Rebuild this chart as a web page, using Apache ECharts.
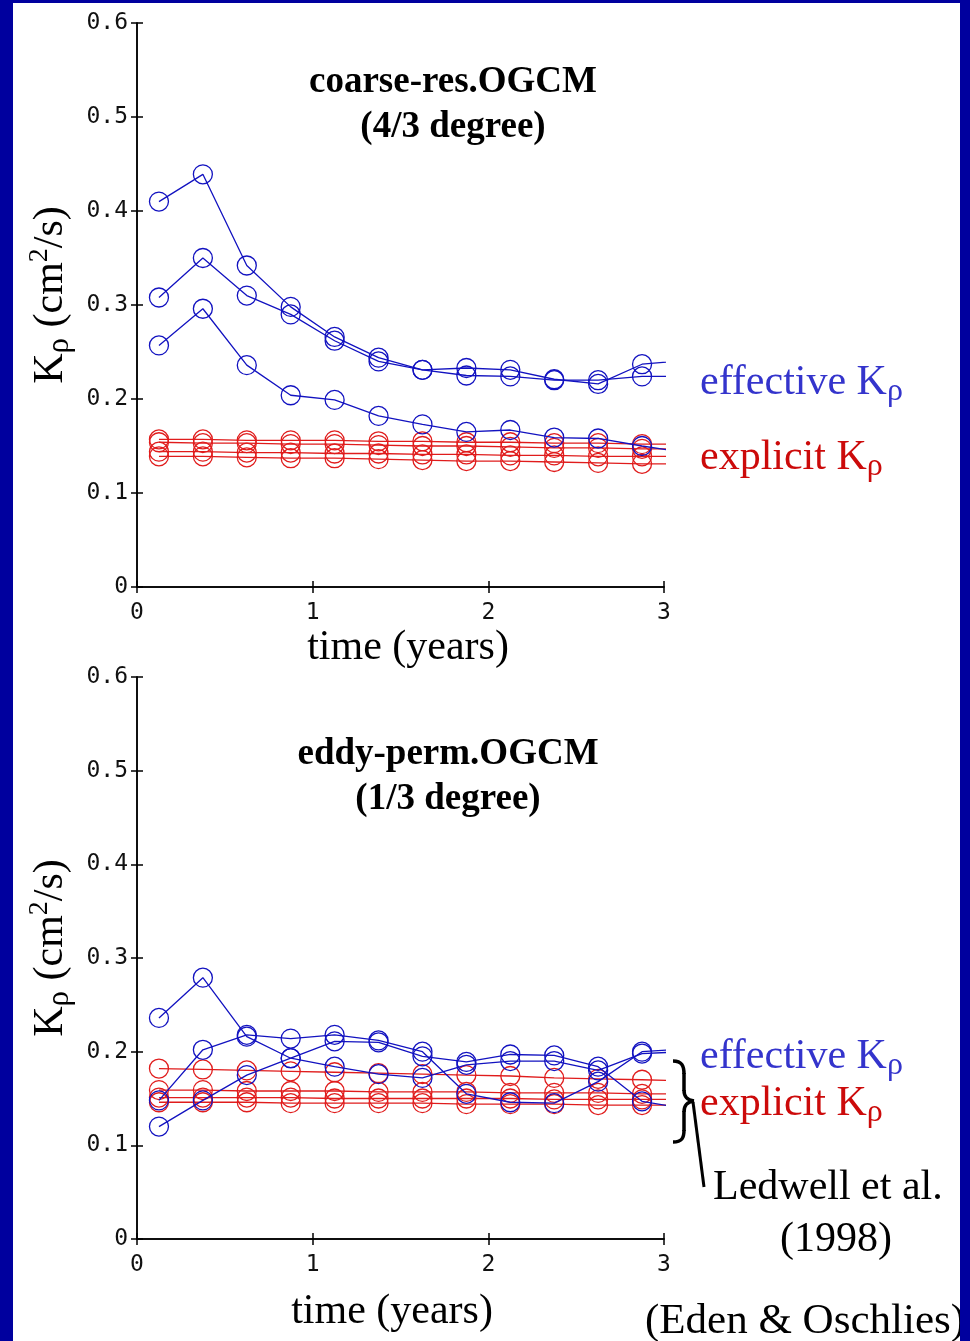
<!DOCTYPE html>
<html>
<head>
<meta charset="utf-8">
<script src="https://cdn.jsdelivr.net/npm/echarts@6/dist/echarts.min.js"></script>
<style>
html,body{margin:0;padding:0;background:#fff;}
#chart{width:970px;height:1341px;}
</style>
</head>
<body>
<div id="chart"></div>
<script>
// ---- data ----
const timeYears = [0.125, 0.375, 0.625, 0.875, 1.125, 1.375, 1.625, 1.875, 2.125, 2.375, 2.625, 2.875, 3.125];
const xTicks = [0, 1, 2, 3];
const yTicks = [0, 0.1, 0.2, 0.3, 0.4, 0.5, 0.6];

// coarse-res. OGCM (4/3 degree)
const coarseEffective1 = [0.410, 0.439, 0.342, 0.298, 0.266, 0.244, 0.231, 0.233, 0.231, 0.221, 0.216, 0.237, 0.241];
const coarseEffective2 = [0.308, 0.350, 0.310, 0.290, 0.262, 0.240, 0.231, 0.225, 0.224, 0.220, 0.220, 0.224, 0.224];
const coarseEffective3 = [0.257, 0.296, 0.236, 0.204, 0.199, 0.182, 0.173, 0.165, 0.167, 0.159, 0.158, 0.150, 0.143];
const coarseExplicit1 = [0.157, 0.157, 0.156, 0.156, 0.156, 0.155, 0.155, 0.154, 0.154, 0.153, 0.153, 0.152, 0.152];
const coarseExplicit2 = [0.154, 0.153, 0.153, 0.152, 0.152, 0.151, 0.150, 0.150, 0.149, 0.148, 0.148, 0.147, 0.147];
const coarseExplicit3 = [0.144, 0.144, 0.143, 0.143, 0.142, 0.142, 0.141, 0.141, 0.140, 0.140, 0.139, 0.139, 0.139];
const coarseExplicit4 = [0.139, 0.139, 0.138, 0.137, 0.137, 0.136, 0.135, 0.134, 0.134, 0.133, 0.132, 0.131, 0.131];

// eddy-perm. OGCM (1/3 degree)
const eddyEffective1 = [0.236, 0.279, 0.216, 0.193, 0.184, 0.176, 0.172, 0.186, 0.190, 0.190, 0.180, 0.198, 0.200];
const eddyEffective2 = [0.148, 0.202, 0.218, 0.214, 0.218, 0.212, 0.200, 0.155, 0.146, 0.145, 0.168, 0.200, 0.203];
const eddyEffective3 = [0.120, 0.148, 0.175, 0.193, 0.211, 0.210, 0.195, 0.189, 0.197, 0.196, 0.184, 0.147, 0.139];
const eddyExplicit1 = [0.182, 0.181, 0.180, 0.179, 0.178, 0.177, 0.176, 0.175, 0.174, 0.172, 0.171, 0.170, 0.169];
const eddyExplicit2 = [0.159, 0.159, 0.158, 0.158, 0.158, 0.157, 0.157, 0.157, 0.156, 0.156, 0.156, 0.155, 0.155];
const eddyExplicit3 = [0.151, 0.151, 0.151, 0.151, 0.150, 0.150, 0.150, 0.150, 0.150, 0.149, 0.149, 0.149, 0.149];
const eddyExplicit4 = [0.146, 0.146, 0.146, 0.145, 0.145, 0.145, 0.145, 0.144, 0.144, 0.144, 0.143, 0.143, 0.143];

const panelTitles = ['coarse-res.OGCM\n(4/3 degree)', 'eddy-perm.OGCM\n(1/3 degree)'];

// ---- styling ----
const BLUE = '#1212c0';
const RED = '#e01c1c';
const SERIF = 'Liberation Serif';
const MONO = 'DejaVu Sans Mono';

function pair(xs, ys) { return xs.map((x, i) => [x, ys[i]]); }

function mkSeries(name, vals, color, gi) {
  return {
    name: name, type: 'line', xAxisIndex: gi * 2, yAxisIndex: gi * 2,
    data: pair(timeYears, vals),
    symbol: 'circle', symbolSize: 19, clip: true,
    lineStyle: { color: color, width: 1.3 },
    itemStyle: { color: 'rgba(0,0,0,0)', borderColor: color, borderWidth: 1.3 },
    emphasis: { disabled: true }, z: color === BLUE ? 3 : 2
  };
}

function xAxes(gi, nameGap, pad) {
  return [{
    type: 'value', gridIndex: gi, min: xTicks[0], max: xTicks[xTicks.length - 1], interval: 1,
    position: 'bottom',
    name: 'time (years)', nameLocation: 'middle', nameGap: nameGap,
    nameTextStyle: { fontFamily: SERIF, fontSize: 42, color: '#000', lineHeight: 44, padding: pad },
    axisLine: { show: true, lineStyle: { color: '#000', width: 1.5 } },
    axisTick: { show: true, inside: true, length: 6, lineStyle: { color: '#000', width: 1.5 } },
    axisLabel: { show: true, margin: 15, fontFamily: MONO, fontSize: 23, color: '#111' },
    splitLine: { show: false }
  }, {
    type: 'value', gridIndex: gi, min: xTicks[0], max: xTicks[xTicks.length - 1], interval: 1,
    position: 'top',
    axisLine: { show: true, lineStyle: { color: '#000', width: 1.5 } },
    axisTick: { show: true, inside: true, length: 6, lineStyle: { color: '#000', width: 1.5 } },
    axisLabel: { show: false }, splitLine: { show: false }
  }];
}

const yRich = {
  k: { fontFamily: SERIF, fontSize: 42, lineHeight: 50, color: '#000' },
  s: { fontFamily: SERIF, fontSize: 31, lineHeight: 24, verticalAlign: 'bottom', color: '#000' },
  p: { fontFamily: SERIF, fontSize: 28, lineHeight: 26, verticalAlign: 'top', color: '#000' }
};

function yAxes(gi) {
  return [{
    type: 'value', gridIndex: gi, min: yTicks[0], max: yTicks[yTicks.length - 1], interval: 0.1,
    position: 'left',
    name: '{k|K}{s|ρ}{k| (cm}{p|2}{k|/s)}', nameLocation: 'middle', nameGap: 60,
    nameTextStyle: { fontFamily: SERIF, fontSize: 42, color: '#000', padding: [0, 0, 0, 20], rich: yRich },
    axisLine: { show: true, lineStyle: { color: '#000', width: 1.5 } },
    axisTick: { show: true, inside: true, length: 6, lineStyle: { color: '#000', width: 1.5 } },
    axisLabel: { show: true, margin: 9, fontFamily: MONO, fontSize: 23, color: '#111' },
    splitLine: { show: false }
  }, {
    type: 'value', gridIndex: gi, min: yTicks[0], max: yTicks[yTicks.length - 1], interval: 0.1,
    position: 'right',
    axisLine: { show: true, lineStyle: { color: '#000', width: 1.5 } },
    axisTick: { show: true, inside: true, length: 6, lineStyle: { color: '#000', width: 1.5 } },
    axisLabel: { show: false }, splitLine: { show: false }
  }];
}

function kText(x, y, label, color) {
  return {
    type: 'text', x: x, y: y, z: 10,
    style: {
      text: '{t|' + label + ' K}{s|ρ}', fill: color, align: 'left', verticalAlign: 'middle',
      rich: {
        t: { fontFamily: SERIF, fontSize: 42, lineHeight: 50, fill: color },
        s: { fontFamily: SERIF, fontSize: 32, lineHeight: 24, verticalAlign: 'bottom', fill: color }
      }
    }
  };
}

function plainText(x, y, text, align, opts) {
  return {
    type: 'text', x: x, y: y, z: 10,
    style: Object.assign({
      text: text, fill: '#000', align: align, verticalAlign: 'middle',
      fontFamily: SERIF, fontSize: 42
    }, opts || {})
  };
}

function bez(x1, y1, cx1, cy1, cx2, cy2, x2, y2) {
  return { type: 'bezierCurve', z: 10,
    shape: { x1: x1, y1: y1, cpx1: cx1, cpy1: cy1, cpx2: cx2, cpy2: cy2, x2: x2, y2: y2 },
    style: { fill: null, stroke: '#000', lineWidth: 3.5 } };
}
function seg(x1, y1, x2, y2, w) {
  return { type: 'line', z: 10, shape: { x1: x1, y1: y1, x2: x2, y2: y2 },
    style: { stroke: '#000', lineWidth: w || 3.5 } };
}

const chart = echarts.init(document.getElementById('chart'), null, { renderer: 'canvas' });

const option = {
  animation: false,
  backgroundColor: '#ffffff',
  grid: [
    { left: 137, top: 23, width: 527, height: 564 },
    { left: 137, top: 677, width: 527, height: 562 }
  ],
  xAxis: [].concat(xAxes(0, 28, [0, 0, 0, 15]), xAxes(1, 51, [0, 17, 0, 0])),
  yAxis: [].concat(yAxes(0), yAxes(1)),
  series: [
    mkSeries('coarse explicit 1', coarseExplicit1, RED, 0),
    mkSeries('coarse explicit 2', coarseExplicit2, RED, 0),
    mkSeries('coarse explicit 3', coarseExplicit3, RED, 0),
    mkSeries('coarse explicit 4', coarseExplicit4, RED, 0),
    mkSeries('coarse effective 1', coarseEffective1, BLUE, 0),
    mkSeries('coarse effective 2', coarseEffective2, BLUE, 0),
    mkSeries('coarse effective 3', coarseEffective3, BLUE, 0),
    mkSeries('eddy explicit 1', eddyExplicit1, RED, 1),
    mkSeries('eddy explicit 2', eddyExplicit2, RED, 1),
    mkSeries('eddy explicit 3', eddyExplicit3, RED, 1),
    mkSeries('eddy explicit 4', eddyExplicit4, RED, 1),
    mkSeries('eddy effective 1', eddyEffective1, BLUE, 1),
    mkSeries('eddy effective 2', eddyEffective2, BLUE, 1),
    mkSeries('eddy effective 3', eddyEffective3, BLUE, 1)
  ],
  graphic: [
    plainText(453, 105, panelTitles[0], 'center', { fontWeight: 'bold', fontSize: 37, lineHeight: 45 }),
    plainText(448, 777, panelTitles[1], 'center', { fontWeight: 'bold', fontSize: 37, lineHeight: 45 }),
    kText(700, 383, 'effective', '#3434cc'),
    kText(700, 458, 'explicit', '#cc0a0a'),
    kText(700, 1057, 'effective', '#3434cc'),
    kText(700, 1104, 'explicit', '#cc0a0a'),
    bez(673, 1061, 682, 1061, 684, 1066, 684, 1074),
    seg(684, 1073, 684, 1091),
    bez(684, 1090, 684, 1097, 687, 1100, 694, 1101),
    bez(694, 1101, 687, 1102, 684, 1105, 684, 1112),
    seg(684, 1111, 684, 1131),
    bez(684, 1130, 684, 1138, 682, 1142, 673, 1142),
    seg(693, 1102, 704, 1187, 3),
    plainText(713, 1188, 'Ledwell et al.', 'left'),
    plainText(836, 1240, '(1998)', 'center'),
    plainText(645, 1322, '(Eden & Oschlies)', 'left', { fontSize: 43 }),
    { type: 'rect', z: 100, shape: { x: 0, y: 0, width: 13, height: 1341 }, style: { fill: '#00009e' } },
    { type: 'rect', z: 100, shape: { x: 0, y: 0, width: 970, height: 3 }, style: { fill: '#00009e' } },
    { type: 'rect', z: 100, shape: { x: 960, y: 0, width: 10, height: 1341 }, style: { fill: '#00009e' } }
  ]
};
chart.setOption(option);
</script>
</body>
</html>
